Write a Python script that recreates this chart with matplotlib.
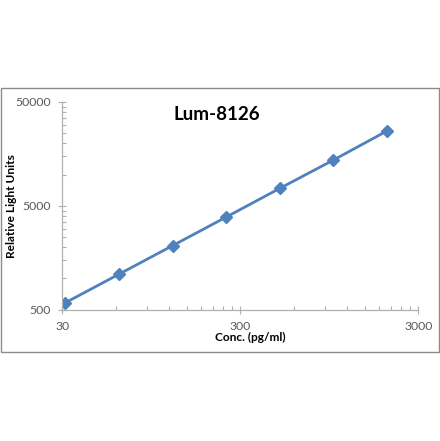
import matplotlib
matplotlib.use("Agg")
import matplotlib.pyplot as plt
import matplotlib.ticker as mticker
from matplotlib.patches import Rectangle

conc = [31.25, 62.5, 125, 250, 500, 1000, 2000]
rlu = [584, 1100, 2070, 3900, 7370, 13800, 26300]
x_ticks = [30, 300, 3000]
y_ticks = [500, 5000, 50000]

plt.rcParams['font.family'] = ['Lato', 'DejaVu Sans']

fig = plt.figure(figsize=(4.4, 4.41), dpi=100)
fig.patches.append(Rectangle((1/440, 1 - 352/441), 438/440, 264/441,
                             transform=fig.transFigure, fill=False,
                             edgecolor='#8c8c8c', linewidth=1.0))

ax = fig.add_axes([62.3/440, 1 - 309.7/441, 356/440, 207.7/441])
ax.plot(conc, rlu, color='#4F81BD', linewidth=2.0, marker='D',
        markersize=6.5, markerfacecolor='#4F81BD', markeredgecolor='#4F81BD')
ax.set_xscale('log')
ax.set_yscale('log')
ax.set_xlim(30, 3000)
ax.set_ylim(500, 50000)

ax.xaxis.set_major_locator(mticker.FixedLocator(x_ticks))
ax.yaxis.set_major_locator(mticker.FixedLocator(y_ticks))
ax.xaxis.set_minor_locator(mticker.FixedLocator(
    [k * 30 * 10**n for n in range(2) for k in range(2, 10)]))
ax.yaxis.set_minor_locator(mticker.FixedLocator(
    [k * 500 * 10**n for n in range(2) for k in range(2, 10)]))
ax.xaxis.set_major_formatter(mticker.FixedFormatter([str(v) for v in x_ticks]))
ax.yaxis.set_major_formatter(mticker.FixedFormatter([str(v) for v in y_ticks]))
ax.xaxis.set_minor_formatter(mticker.NullFormatter())
ax.yaxis.set_minor_formatter(mticker.NullFormatter())

for s in ['top', 'right']:
    ax.spines[s].set_visible(False)
for s in ['left', 'bottom']:
    ax.spines[s].set_color('#b0b0b0')
    ax.spines[s].set_linewidth(0.9)

ax.tick_params(which='major', direction='inout', length=6, width=0.8,
               color='#b0b0b0', labelsize=8.8, labelcolor='#595959', pad=5)
ax.tick_params(which='minor', direction='in', length=3, width=0.8, color='#b0b0b0')

ax.set_xlabel('Conc. (pg/ml)', fontsize=8.6, fontweight='bold')
ax.set_ylabel('Relative Light Units', fontsize=8.6, fontweight='bold')
ax.xaxis.set_label_coords((250 - 62.3) / 356, (309.7 - 337) / 207.7)
ax.yaxis.set_label_coords((11.5 - 62.3) / 356, (309.7 - 206.5) / 207.7)
ax.xaxis.label.set_va('center')
ax.yaxis.label.set_va('center')
fig.text(216.7/440, 1 - 114/441, 'Lum-8126', fontsize=13.5, fontweight='bold',
         ha='center', va='center')

fig.savefig('out.png', dpi=100)
